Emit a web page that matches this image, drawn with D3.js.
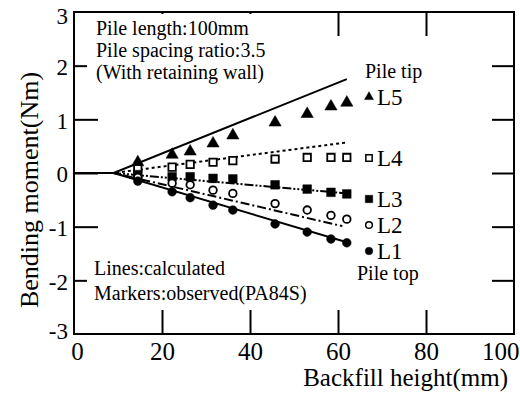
<!DOCTYPE html>
<html><head><meta charset="utf-8">
<script src="https://cdn.jsdelivr.net/npm/d3@7"></script>
<style>
body{margin:0;background:#fff;}
svg text{font-family:"Liberation Serif","Times New Roman","DejaVu Serif",serif !important;fill:#000;}
</style></head>
<body><svg id="c" width="520" height="393"></svg>
<script>
// ---- data ----
const xTicks = [0, 20, 40, 60, 80, 100];
const yTicks = [-3, -2, -1, 0, 1, 2, 3];
const obsX = [14.5, 22.3, 26.4, 31.6, 36.1, 45.7, 53, 58.4, 62];
const obsL5 = [0.20, 0.34, 0.40, 0.55, 0.70, 0.94, 1.10, 1.24, 1.31];
const obsL4 = [0.08, 0.11, 0.16, 0.20, 0.23, 0.26, 0.29, 0.29, 0.29];
const obsL3 = [-0.03, -0.07, -0.07, -0.10, -0.11, -0.22, -0.30, -0.36, -0.39];
const obsL2 = [-0.08, -0.19, -0.22, -0.32, -0.38, -0.57, -0.69, -0.79, -0.86];
const obsL1 = [-0.15, -0.35, -0.46, -0.60, -0.69, -0.95, -1.10, -1.23, -1.30];
const calcX = [0, 9, 62];
const calcL5 = [0, 0, 1.75];
const calcL4 = [0, 0, 0.57];
const calcL3 = [0, 0, -0.38];
const calcX2 = [0, 9, 61];
const calcL2 = [0, 0, -0.99];
const calcL1 = [0, 0, -1.29];
const seriesNames = ["L5", "L4", "L3", "L2", "L1"];

// ---- setup ----
const FONT = "Liberation Serif, Times New Roman, DejaVu Serif, serif";
const svg = d3.select("#c").attr("font-family", FONT);
const x = d3.scaleLinear().domain([0, 100]).range([74, 514]);
const y = d3.scaleLinear().domain([-3, 3]).range([334, 12]);

// axes (ticks inward)
const gB = svg.append("g").attr("transform", "translate(0,334)")
  .call(d3.axisBottom(x).tickValues(xTicks).tickSize(-24).tickPadding(8).tickFormat(d => String(d)));
const gT = svg.append("g").attr("transform", "translate(0,12)")
  .call(d3.axisTop(x).tickValues(xTicks).tickSize(-24).tickFormat(""));
const gL = svg.append("g").attr("transform", "translate(74,0)")
  .call(d3.axisLeft(y).tickValues(yTicks).tickSize(-24).tickPadding(6).tickFormat(d => String(d)));
const gR = svg.append("g").attr("transform", "translate(514,0)")
  .call(d3.axisRight(y).tickValues(yTicks).tickSize(-22).tickFormat(""));
[gB, gT, gL, gR].forEach(g => {
  g.attr("font-family", FONT);
  g.select(".domain").remove();
  g.selectAll(".tick line").attr("stroke", "#000").attr("stroke-width", 2);
});
gB.selectAll(".tick text").attr("font-size", 25);
gB.selectAll(".tick text").filter(d => d === 100).attr("text-anchor", "end").attr("dx", 5);
gB.selectAll(".tick text").filter(d => d === 0).attr("dx", 3);
gL.selectAll(".tick text").attr("font-size", 23).attr("dy", "0.38em");
gL.selectAll(".tick text").filter(d => d === -3).attr("dy", "0.2em");
gL.selectAll(".tick text").filter(d => d === 3).attr("dy", "0.5em");
// hide ticks at extremes that coincide with frame
gL.selectAll(".tick line").filter(d => d === 3 || d === -3).remove();
gR.selectAll(".tick line").filter(d => d === 3 || d === -3).remove();
gB.selectAll(".tick line").filter(d => d === 0 || d === 100).remove();
gT.selectAll(".tick line").filter(d => d === 0 || d === 100).remove();

// white boxes behind annotation text
svg.append("rect").attr("x", 87).attr("y", 14).attr("width", 195).attr("height", 76).attr("fill", "#fff");
svg.append("rect").attr("x", 87).attr("y", 256).attr("width", 230).attr("height", 50).attr("fill", "#fff");

// frame
svg.append("rect").attr("x", 74).attr("y", 12).attr("width", 440).attr("height", 322)
  .attr("fill", "none").attr("stroke", "#000").attr("stroke-width", 2);

// calculated lines
const line = d3.line().x(d => x(d[0])).y(d => y(d[1]));
const calcs = [
  {xs: calcX, ys: calcL5, dash: null},
  {xs: calcX, ys: calcL4, dash: "3,3"},
  {xs: calcX, ys: calcL3, dash: "9,2,2,2,2,2"},
  {xs: calcX2, ys: calcL2, dash: "9,3,2,3"},
  {xs: calcX, ys: calcL1, dash: null}
];
calcs.forEach(c => {
  svg.append("path").datum(c.xs.map((v, i) => [v, c.ys[i]]))
    .attr("d", line).attr("fill", "none").attr("stroke", "#000")
    .attr("stroke-width", 2).attr("stroke-dasharray", c.dash);
});

// markers
const sym = {
  L5: {type: d3.symbolTriangle, size: 65, fill: "#000"},
  L4: {type: d3.symbolSquare, size: 55, fill: "#fff"},
  L3: {type: d3.symbolSquare, size: 75, fill: "#000"},
  L2: {type: d3.symbolCircle, size: 45, fill: "#fff"},
  L1: {type: d3.symbolCircle, size: 60, fill: "#000"}
};
const obs = {L5: obsL5, L4: obsL4, L3: obsL3, L2: obsL2, L1: obsL1};
seriesNames.forEach(n => {
  const s = sym[n];
  svg.append("g").selectAll("path").data(obsX.map((v, i) => [v, obs[n][i]])).join("path")
    .attr("transform", d => `translate(${x(d[0])},${y(d[1])})`)
    .attr("d", d3.symbol().type(s.type).size(s.size))
    .attr("fill", s.fill).attr("stroke", "#000").attr("stroke-width", s.fill === "#fff" ? 1.8 : 0.5);
});

// legend labels
const legY = {L5: 97, L4: 158, L3: 199, L2: 225, L1: 251};
const legSize = {L5: 35, L4: 40, L3: 55, L2: 35, L1: 45};
seriesNames.forEach(n => {
  const s = sym[n];
  svg.append("path").attr("transform", `translate(369,${legY[n]})`)
    .attr("d", d3.symbol().type(s.type).size(legSize[n]))
    .attr("fill", s.fill).attr("stroke", "#000").attr("stroke-width", s.fill === "#fff" ? 1.5 : 0.5);
  svg.append("text").attr("x", 377).attr("y", legY[n] + 8).attr("font-size", 23).text(n);
});
svg.append("text").attr("x", 365).attr("y", 78).attr("font-size", 20).text("Pile tip");
svg.append("text").attr("x", 357).attr("y", 280).attr("font-size", 20).text("Pile top");

// annotations
const ann1 = ["Pile length:100mm", "Pile spacing ratio:3.5", "(With retaining wall)"];
ann1.forEach((t, i) => svg.append("text").attr("x", 96).attr("y", 35 + i * 22).attr("font-size", 20).text(t));
const ann2 = ["Lines:calculated", "Markers:observed(PA84S)"];
ann2.forEach((t, i) => svg.append("text").attr("x", 94).attr("y", 275 + i * 25).attr("font-size", 20).text(t));

// axis titles
svg.append("text").attr("x", 508).attr("y", 386).attr("text-anchor", "end").attr("font-size", 25).text("Backfill height(mm)");
svg.append("text").attr("transform", "translate(38,190) rotate(-90)").attr("text-anchor", "middle")
  .attr("font-size", 26).text("Bending moment(Nm)");
</script></body></html>
